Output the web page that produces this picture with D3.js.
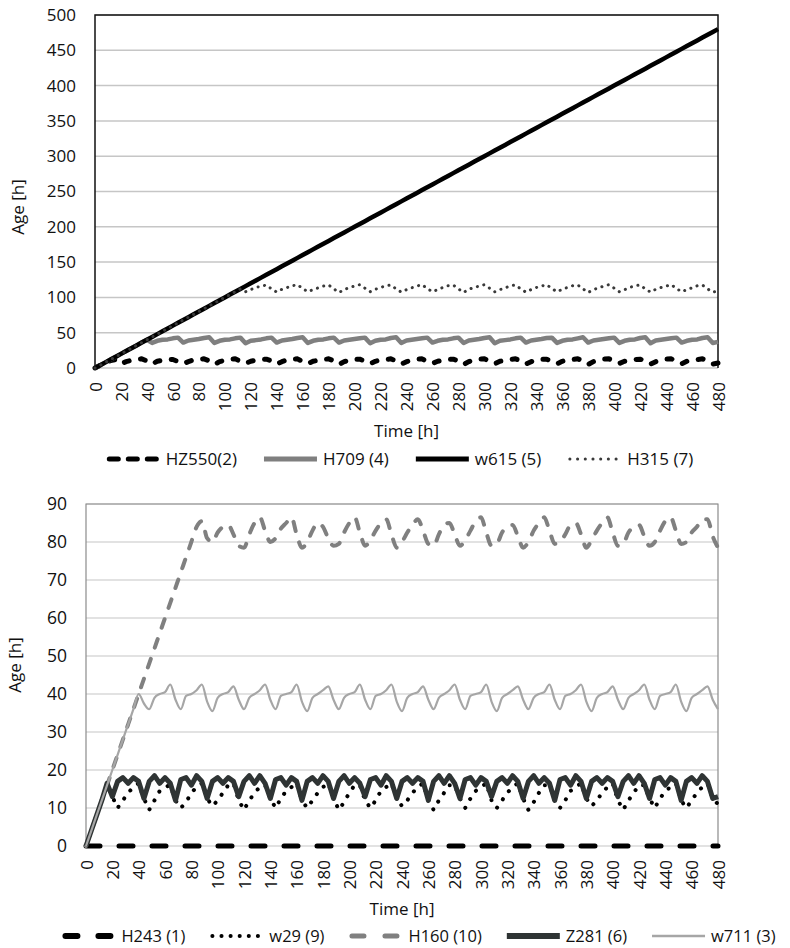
<!DOCTYPE html>
<html>
<head>
<meta charset="utf-8">
<script src="https://cdn.jsdelivr.net/npm/d3@7"></script>
<style>
  body { margin: 0; background: #fff; }
  text { font-family: "Open Sans", sans-serif; fill: #111; }
</style>
</head>
<body>
<div id="chart"></div>
<script>
// shared time axis (h), one reading every 4 h
const hours = [
  0,4,8,12,16,20,24,28,32,36,40,44,48,52,56,60,64,68,72,76,
  80,84,88,92,96,100,104,108,112,116,120,124,128,132,136,140,144,148,152,156,
  160,164,168,172,176,180,184,188,192,196,200,204,208,212,216,220,224,228,232,236,
  240,244,248,252,256,260,264,268,272,276,280,284,288,292,296,300,304,308,312,316,
  320,324,328,332,336,340,344,348,352,356,360,364,368,372,376,380,384,388,392,396,
  400,404,408,412,416,420,424,428,432,436,440,444,448,452,456,460,464,468,472,476,
  480
];
const xTickLabels = [0,20,40,60,80,100,120,140,160,180,200,220,240,260,280,300,320,340,360,380,400,420,440,460,480];

// ---- top chart ----
const topYTicks = [0,50,100,150,200,250,300,350,400,450,500];

const hz550 = [
  0,4,8,10.5,12,
  6,9,11,12,13,10,
  5.5,9.5,11,12.5,12,9,
  6,9,11.5,12,13,10,
  5,9,11,12.5,13,9.5,
  6.5,9.5,11,12,12.5,10,
  5.5,9,11.5,12.5,13,9,
  6,9.5,11,12,13,10,
  5,9,11,12.5,12.5,9.5,
  6,9.5,11.5,12,13,10,
  5.5,9,11,12.5,13,9,
  6.5,9.5,11,12,12.5,10,
  5,9,11.5,12.5,13,9.5,
  6,9.5,11,12,13,10,
  5.5,9,11,12.5,12.5,9,
  6,9.5,11.5,12,13,10,
  5,9,11,12.5,13,9.5,
  6.5,9.5,11,12,12.5,10,
  5.5,9,11.5,12.5,13,9,
  6,9.5,11,12,13,10,
  5.5,7
];

const h709 = [
  0,4,8,12,16,20,24,28,32,36,40,
  35.5,38.5,40,40.5,42,43,
  36,39,40,41,42.5,43.5,
  35.5,38.5,40,40.5,42,43,
  35,38.5,39.5,40.5,42,43,
  36,39,40,41,42.5,43.5,
  35.5,38.5,40,40.5,42,43,
  36,39,40,41,42,43,
  35,38.5,40,40.5,42.5,43.5,
  35.5,39,40,41,42,43,
  36,38.5,40,40.5,42,43,
  35.5,39,40,41,42.5,43.5,
  35,38.5,39.5,40.5,42,43,
  36,39,40,41,42.5,43,
  35.5,38.5,40,40.5,42,43.5,
  36,39,40,41,42,43,
  35.5,38.5,40,40.5,42.5,43.5,
  35,39,40,41,42,43,
  36,38.5,40,40.5,42.5,43.5,
  35.5,37
];

const w615 = [
  0,4,8,12,16,20,24,28,32,36,40,44,48,52,56,60,64,68,72,76,
  80,84,88,92,96,100,104,108,112,116,120,124,128,132,136,140,144,148,152,156,
  160,164,168,172,176,180,184,188,192,196,200,204,208,212,216,220,224,228,232,236,
  240,244,248,252,256,260,264,268,272,276,280,284,288,292,296,300,304,308,312,316,
  320,324,328,332,336,340,344,348,352,356,360,364,368,372,376,380,384,388,392,396,
  400,404,408,412,416,420,424,428,432,436,440,444,448,452,456,460,464,468,472,476,
  480
];

const h315 = [
  0,4,8,12,16,20,24,28,32,36,40,44,48,52,56,60,64,68,72,76,
  80,84,88,92,96,100,104,108,112,
  108,111,114,116,117.5,112,
  107.5,111.5,114,116.5,118,112.5,
  108,111,113.5,116,117.5,112,
  107,111,114,116,118,113,
  108,111.5,114,116.5,117.5,112,
  107.5,111,113.5,116,118,112.5,
  108,111,114,116.5,117.5,112,
  107,111.5,114,116,118,113,
  108,111,113.5,116.5,117.5,112,
  107.5,111,114,116,118,112.5,
  108,111.5,114,116.5,117.5,112,
  107,111,113.5,116,118,113,
  108,111,114,116.5,117.5,112,
  107.5,111.5,114,116,118,112.5,
  108,111,113.5,116.5,117.5,112,
  107.5,109
];

// ---- bottom chart ----
const bottomYTicks = [0,10,20,30,40,50,60,70,80,90];

const h243 = [
  0,0,0,0,0,0,0,0,0,0,0,0,0,0,0,0,0,0,0,0,
  0,0,0,0,0,0,0,0,0,0,0,0,0,0,0,0,0,0,0,0,
  0,0,0,0,0,0,0,0,0,0,0,0,0,0,0,0,0,0,0,0,
  0,0,0,0,0,0,0,0,0,0,0,0,0,0,0,0,0,0,0,0,
  0,0,0,0,0,0,0,0,0,0,0,0,0,0,0,0,0,0,0,0,
  0,0,0,0,0,0,0,0,0,0,0,0,0,0,0,0,0,0,0,0,
  0
];

const w29 = [
  0,4,8,12,16,13,
  10,12,14,15.5,16.5,12.5,
  9.5,12,14.5,15.5,16,12,
  10,11.5,14,15.5,16.5,12.5,
  10.5,12,14,16,16.5,12,
  9.5,12,14,15.5,16,12.5,
  10,12.5,14.5,15.5,16.5,12,
  10,12,14,15.5,16.5,12.5,
  9.5,11.5,14,16,16,12,
  10,12,14.5,15.5,16.5,12.5,
  10.5,12,14,15.5,16.5,12,
  9.5,12,14,16,16,12.5,
  10,12.5,14.5,15.5,16.5,12,
  10,12,14,15.5,16.5,12.5,
  9.5,11.5,14,16,16,12,
  10,12,14.5,15.5,16.5,12.5,
  10.5,12,14,15.5,16.5,12,
  9.5,12,14,16,16,12.5,
  10,12.5,14.5,15.5,16.5,12,
  10,12,14,15.5,16.5,12.5,
  11
];

const h160 = [
  0,4,8,12,16,20,24,28,32,36,40,44,48,52,56,60,64,68,72,76,
  80,84,85.5,81,
  80,82.5,84,84.5,82,79,
  78.5,82,85,86.5,83,80,
  81,83.5,85,86.5,82,78.5,
  80,83,85,84,81,79,
  79.5,82.5,85,86.5,82.5,79,
  80.5,83,85,86,82,78.5,
  80,82.5,84.5,86,83,79.5,
  79,82,84.5,85,82,79,
  80.5,83,85.5,86.5,82.5,79,
  79.5,82.5,84,84.5,81.5,78.5,
  80,83,85,86.5,83,79.5,
  80,82,84.5,85,82,78.5,
  80.5,83,85,86.5,82.5,79,
  79.5,82.5,84,84.5,81.5,79,
  80,83,85.5,86.5,83,79.5,
  80,82.5,84,86,86,81.5,
  78.5
];

const z281 = [
  0,4,8,12,16.5,
  13,17,18,16.5,18,17,
  12.5,17,18.5,16.5,18,16.5,
  12,17.5,18,16,18.5,17,
  12.5,17,18,16.5,18,17,
  13,17,18.5,16.5,18.5,16.5,
  12.5,17.5,18,16,18,17,
  12,17,18,16.5,18.5,17,
  12.5,17,18.5,16.5,18,16.5,
  13,17.5,18,16,18.5,17,
  12.5,17,18,16.5,18,17,
  12,17,18.5,16.5,18.5,16.5,
  12.5,17.5,18,16,18,17,
  13,17,18,16.5,18.5,17,
  12.5,17,18.5,16.5,18,16.5,
  12,17.5,18,16,18.5,17,
  12.5,17,18,16.5,18,17,
  13,17,18.5,16.5,18.5,16.5,
  12.5,17.5,18,16,18,17,
  12,17,18,16.5,18.5,17,
  12.5,13
];

const w711 = [
  0,4,8,12,16,20,24,28,32,36,40,37.5,
  36,39,40,40.5,42.5,38.5,
  36,39.5,40,41,42.5,38,
  35.5,39,40,40.5,42,38.5,
  36,39,40,41,42.5,38.5,
  36,39.5,40,40.5,42.5,38,
  35.5,39,40,41,42,38.5,
  36,39,40,40.5,42.5,38.5,
  36,39.5,40,41,42.5,38,
  35.5,39,40,40.5,42,38.5,
  36,39,40,41,42.5,38.5,
  36,39.5,40,40.5,42.5,38,
  35.5,39,40,41,42,38.5,
  36,39,40,40.5,42.5,38.5,
  36,39.5,40,41,42.5,38,
  35.5,39,40,40.5,42,38.5,
  36,39,40,41,42.5,38.5,
  36,39.5,40,40.5,42.5,38,
  35.5,39,40,41,42,38.5,
  36
];

const svg = d3.select('#chart')
  .append('svg')
  .attr('width', 790)
  .attr('height', 948);

function drawPanel(p) {
  const x = d3.scaleLinear().domain([0, 480]).range([p.left, p.right]);
  const y = d3.scaleLinear().domain([0, p.yMax]).range([p.bottom, p.top]);
  const g = svg.append('g');

  // horizontal gridlines
  g.selectAll('line.grid')
    .data(p.yTicks)
    .enter()
    .append('line')
    .attr('class', 'grid')
    .attr('x1', p.left)
    .attr('x2', p.right)
    .attr('y1', d => y(d))
    .attr('y2', d => y(d))
    .attr('stroke', p.gridColor)
    .attr('stroke-width', 1.5);

  // plot frame (left, top, right)
  g.append('path')
    .attr('d', 'M' + p.left + ',' + p.bottom + 'V' + p.top + 'H' + p.right + 'V' + p.bottom)
    .attr('fill', 'none')
    .attr('stroke', p.frameColor)
    .attr('stroke-width', p.frameWidth);

  // Y axis labels
  const yAxis = g.append('g')
    .attr('transform', 'translate(' + p.left + ',0)')
    .call(d3.axisLeft(y).tickValues(p.yTicks).tickSize(0).tickPadding(19));
  yAxis.select('.domain').remove();
  yAxis.selectAll('text').style('font-size', p.yFont + 'px');

  // X axis labels, rotated
  const xAxis = g.append('g')
    .attr('transform', 'translate(0,' + p.bottom + ')')
    .call(d3.axisBottom(x).tickValues(xTickLabels).tickSize(0));
  xAxis.select('.domain').remove();
  xAxis.selectAll('text')
    .attr('x', -14)
    .attr('y', 0)
    .attr('dy', '0.36em')
    .attr('transform', 'rotate(-90)')
    .style('text-anchor', 'end')
    .style('font-size', '17px');

  // series
  p.series.forEach(s => {
    const line = d3.line()
      .x((d, i) => x(hours[i]))
      .y(d => y(d))
      .curve(s.curve || d3.curveLinear);
    g.append('path')
      .datum(s.values)
      .attr('d', line)
      .attr('fill', 'none')
      .attr('stroke', s.color)
      .attr('stroke-width', s.width)
      .attr('stroke-dasharray', s.dash || null)
      .attr('stroke-linecap', s.dash ? 'round' : 'butt')
      .attr('stroke-linejoin', 'round');
  });

  // axis titles
  g.append('text')
    .attr('transform', 'translate(' + p.yTitleX + ',' + p.yTitleY + ')rotate(-90)')
    .attr('text-anchor', 'middle')
    .attr('dy', '0.35em')
    .style('font-size', '17px')
    .text('Age [h]');
  g.append('text')
    .attr('x', (p.left + p.right) / 2)
    .attr('y', p.xTitleY)
    .attr('text-anchor', 'middle')
    .attr('dy', '0.35em')
    .style('font-size', '17px')
    .text('Time [h]');

  // legend, laid out left to right then centred
  const leg = g.append('g');
  let cursor = 0;
  p.series.forEach(s => {
    const item = leg.append('g').attr('transform', 'translate(' + cursor + ',0)');
    const pad = s.legendDash ? s.legendWidth / 2 : 0;
    item.append('line')
      .attr('x1', pad).attr('x2', 53 - pad)
      .attr('y1', 0).attr('y2', 0)
      .attr('stroke', s.color)
      .attr('stroke-width', s.legendWidth)
      .attr('stroke-dasharray', s.legendDash || null)
      .attr('stroke-linecap', s.legendDash ? 'round' : 'butt');
    const t = item.append('text')
      .attr('x', 59)
      .attr('dy', '0.35em')
      .style('font-size', p.legendFont + 'px')
      .text(s.name);
    cursor += 59 + t.node().getComputedTextLength() + p.legendGap;
  });
  const total = cursor - p.legendGap;
  leg.attr('transform', 'translate(' + (p.legendCx - total / 2) + ',' + p.legendY + ')');
}

drawPanel({
  left: 95, right: 718, top: 15, bottom: 368,
  yMax: 500, yTicks: topYTicks, yFont: 17,
  gridColor: '#c6c6c6', frameColor: '#111', frameWidth: 1.5,
  yTitleX: 18, yTitleY: 207, xTitleY: 431,
  legendCx: 400, legendY: 459, legendFont: 17, legendGap: 27,
  series: [
    { name: 'HZ550(2)', values: hz550, color: '#000', width: 5, dash: '5,11.5', legendWidth: 5, legendDash: '9,10' },
    { name: 'H709 (4)', values: h709, color: '#7f7f7f', width: 4.5, legendWidth: 5 },
    { name: 'w615 (5)', values: w615, color: '#000', width: 4.5, legendWidth: 5 },
    { name: 'H315 (7)', values: h315, color: '#3a3a3a', width: 3, dash: '0.1,6.5', legendWidth: 3, legendDash: '0.1,7.6' }
  ]
});

drawPanel({
  left: 86, right: 718, top: 504, bottom: 846,
  yMax: 90, yTicks: bottomYTicks, yFont: 17.5,
  gridColor: '#d9d9d9', frameColor: '#8c8c8c', frameWidth: 1.2,
  yTitleX: 15, yTitleY: 665, xTitleY: 909,
  legendCx: 419, legendY: 936, legendFont: 16.5, legendGap: 25,
  series: [
    { name: 'H243 (1)', values: h243, color: '#000', width: 5, dash: '14,19', legendWidth: 6, legendDash: '12,21' },
    { name: 'w29 (9)', values: w29, color: '#000', width: 4, dash: '0.1,10', legendWidth: 4, legendDash: '0.1,9' },
    { name: 'H160 (10)', values: h160, color: '#808080', width: 4, dash: '9,12', legendWidth: 5, legendDash: '12,21', curve: d3.curveMonotoneX },
    { name: 'Z281 (6)', values: z281, color: '#2f3434', width: 5, legendWidth: 6 },
    { name: 'w711 (3)', values: w711, color: '#a6a6a6', width: 2.2, legendWidth: 2.5, curve: d3.curveMonotoneX }
  ]
});
</script>
</body>
</html>
